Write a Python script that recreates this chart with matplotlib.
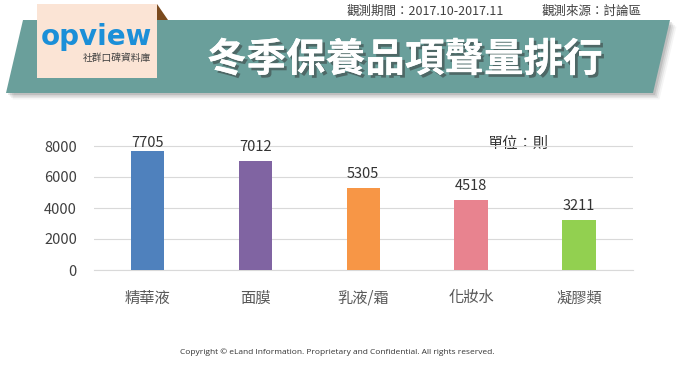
import matplotlib.pyplot as plt
import matplotlib.patheffects as pe
from matplotlib.patches import Polygon, Rectangle

plt.rcParams['font.family'] = ['Noto Sans CJK TC', 'DejaVu Sans']

# data
categories = ['精華液', '面膜', '乳液/霜', '化妝水', '凝膠類']
volumes = [7705, 7012, 5305, 4518, 3211]
bar_colors = ['#4f81bd', '#8064a2', '#f79646', '#e8838f', '#92d050']
yticks = [0, 2000, 4000, 6000, 8000]

title = '冬季保養品項聲量排行'
period = '觀測期間：2017.10-2017.11'
source = '觀測來源：討論區'
unit = '單位：則'
copyright_txt = 'Copyright © eLand Information. Proprietary and Confidential. All rights reserved.'

fig = plt.figure(figsize=(6.8, 3.67), dpi=100)

# background layer in pixel coordinates
bg = fig.add_axes([0, 0, 1, 1])
bg.set_xlim(0, 680)
bg.set_ylim(367, 0)
bg.axis('off')

# soft shadow under the banner
for i, a in enumerate([0.10, 0.08, 0.06, 0.04]):
    d = 2 + i * 1.5
    bg.add_patch(Polygon([(23 + d, 20 + d), (670 + d, 20 + d), (653 + d, 93 + d), (6 + d, 93 + d)],
                         closed=True, facecolor='black', alpha=a, lw=0))
# teal banner
bg.add_patch(Polygon([(23, 20), (670, 20), (653, 93), (6, 93)], closed=True,
                     facecolor='#6a9f9b', edgecolor='none'))

# logo card with folded corner
bg.add_patch(Polygon([(157, 4), (168, 20), (157, 20)], closed=True, facecolor='#7a4a1e', lw=0))
bg.add_patch(Rectangle((37, 4), 120, 74, facecolor='#fbe4d5', edgecolor='none'))
bg.text(96, 45, 'opview', fontsize=20, fontweight='bold', color='#1b8fd8',
        family='DejaVu Sans', ha='center', va='baseline')
bg.text(117, 58, '社群口碑資料庫', fontsize=7, color='#404040', ha='center', va='center')

# title with drop shadow
bg.text(405, 60, title, fontsize=28.5, fontweight='bold', color='white',
        ha='center', va='center',
        path_effects=[pe.withSimplePatchShadow(offset=(2, -2), shadow_rgbFace='#333333', alpha=0.5),
                      pe.Normal()])

bg.text(425, 11, period, fontsize=9, color='#404040', ha='center', va='center')
bg.text(592, 11, source, fontsize=9, color='#404040', ha='center', va='center')

bg.text(518, 143, unit, fontsize=11, color='#333333', ha='center', va='center')
bg.text(337, 352, copyright_txt, fontsize=6, color='#333333', ha='center', va='center',
        family=['Open Sans', 'DejaVu Sans'])

# bar chart
ax = fig.add_axes([93.5 / 680, 1 - 270 / 367, 539.5 / 680, 139.5 / 367])
ax.patch.set_alpha(0)
x = range(len(categories))
bars = ax.bar(x, volumes, width=0.31, color=bar_colors, zorder=3)
for b, v in zip(bars, volumes):
    ax.text(b.get_x() + b.get_width() / 2, min(v + 900, 8190), str(v), ha='center', va='center',
            fontsize=10.5, color='#333333')

ax.set_xlim(-0.5, len(categories) - 0.5)
ax.set_ylim(0, 9000)
ax.set_yticks(yticks)
ax.set_xticks(list(x))
ax.set_xticklabels(categories, fontsize=11, color='#595959')
ax.tick_params(axis='y', labelsize=10.5, labelcolor='#404040', length=0, pad=12)
ax.tick_params(axis='x', length=0, pad=14)
ax.grid(axis='y', color='#d9d9d9', lw=0.8, zorder=0)
for s in ['top', 'right', 'left']:
    ax.spines[s].set_visible(False)
ax.spines['bottom'].set_color('#d9d9d9')

fig.savefig('out.png', dpi=100)
